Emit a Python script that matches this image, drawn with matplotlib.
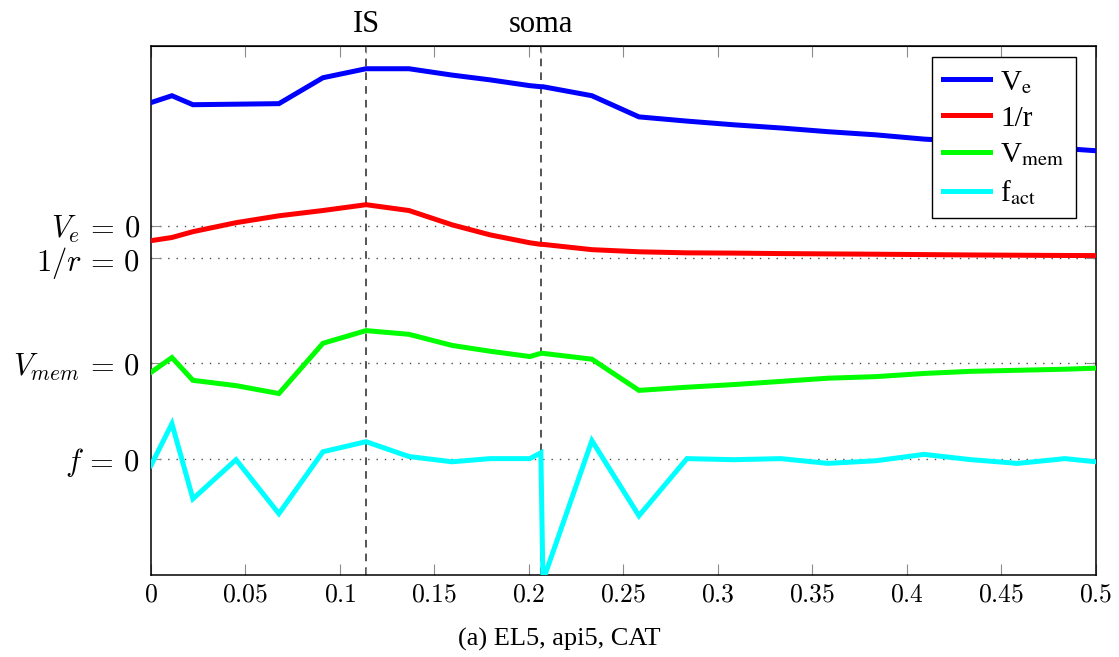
import matplotlib
matplotlib.use('Agg')
import matplotlib.pyplot as plt
from matplotlib.font_manager import FontProperties
from matplotlib.ticker import FuncFormatter

plt.rcParams['font.family'] = ['Liberation Serif', 'DejaVu Serif']
plt.rcParams['mathtext.fontset'] = 'cm'

# Position along the neuron (shared by all four traces)
x = [0.0, 0.0111, 0.0222, 0.0450, 0.0677, 0.0910, 0.1138, 0.1365, 0.1593,
     0.1794, 0.2005, 0.2063, 0.2074, 0.2333, 0.2582, 0.2836, 0.3085, 0.3333,
     0.3582, 0.3836, 0.4090, 0.4339, 0.4587, 0.4836, 0.5]

# Traces, each relative to its own zero line
v_e = [2.33, 2.46, 2.29, 2.30, 2.31, 2.80, 2.97, 2.97, 2.85, 2.76, 2.65, 2.63,
       2.63, 2.46, 2.06, 1.98, 1.91, 1.85, 1.78, 1.72, 1.64, 1.59, 1.53, 1.46,
       1.42]
inv_r = [0.32, 0.38, 0.49, 0.66, 0.79, 0.89, 1.00, 0.89, 0.62, 0.43, 0.28, 0.25,
         0.25, 0.15, 0.11, 0.09, 0.085, 0.076, 0.07, 0.064, 0.057, 0.05, 0.045,
         0.04, 0.038]
v_mem = [-0.17, 0.11, -0.32, -0.42, -0.57, 0.38, 0.62, 0.55, 0.34, 0.23, 0.13,
         0.19, 0.19, 0.08, -0.51, -0.45, -0.40, -0.34, -0.28, -0.25, -0.19,
         -0.15, -0.13, -0.11, -0.09]
f_act = [-0.13, 0.66, -0.76, -0.02, -1.04, 0.13, 0.32, 0.04, -0.06, 0.0, 0.0,
         0.11, -2.31, 0.34, -1.08, 0.0, -0.02, 0.0, -0.09, -0.04, 0.08, -0.02,
         -0.09, 0.0, -0.06]

# Vertical offsets of the zero lines
offsets = [6.6, 6.0, 4.0, 2.2]
zero_labels = [r'$V_e\,=\,0$', r'$1/r\,=\,0$', r'$V_{mem}\,=\,0$', r'$f\,=\,0$']
series = [v_e, inv_r, v_mem, f_act]
names = [r'V$_\mathrm{e}$', '1/r', r'V$_\mathrm{mem}$', r'f$_\mathrm{act}$']
colors = ['#0000ff', '#ff0000', '#00ff00', '#00ffff']

marks = [0.1138, 0.2063]
mark_labels = ['IS', 'soma']

fig = plt.figure(figsize=(11.19, 6.57), dpi=100)
ax = fig.add_axes([0.1349, 0.1248, 0.8445, 0.8052])

for off in offsets:
    ax.axhline(off, color='0.3', lw=1.0, ls=(0, (1, 5)), zorder=1)
for m in marks:
    ax.axvline(m, color='0.15', lw=1.1, ls=(0, (5, 4)), zorder=1)

for s, off, c, n in zip(series, offsets, colors, names):
    ax.plot(x, [v + off for v in s], color=c, lw=3.6, label=n, zorder=3,
            solid_joinstyle='miter')

ax.set_xlim(0, 0.5)
ax.set_ylim(0, 10)
ax.set_xticks([i * 0.05 for i in range(11)])
ax.xaxis.set_major_formatter(FuncFormatter(lambda v, p: f'${v:g}$'))
ax.set_xticks(marks, minor=True)
ax.set_yticks(offsets)
ax.set_yticklabels(zero_labels)

ax.tick_params(axis='x', which='both', direction='in', length=8, width=0.8,
               color='0.55', top=True, labelsize=18.5, pad=7)
ax.tick_params(axis='x', which='minor', length=5)
ax.tick_params(axis='y', direction='in', length=7, width=0.8, color='0.55',
               right=True, labelsize=22, pad=8)
for sp in ax.spines.values():
    sp.set_linewidth(1.1)

top = ax.secondary_xaxis('top')
top.set_xticks(marks)
top.set_xticklabels(mark_labels)
top.tick_params(length=0, labelsize=22, pad=5)

leg = ax.legend(loc='upper right', bbox_to_anchor=(0.9788, 0.979),
                borderaxespad=0, fancybox=False, framealpha=1,
                edgecolor='black', handlelength=1.6, handletextpad=0.35,
                labelspacing=0.33, borderpad=0.4,
                prop=FontProperties(family='Liberation Serif', size=21,
                                    math_fontfamily='stix'))
leg.get_frame().set_linewidth(1.0)

fig.text(0.5, 0.026, '(a) EL5, api5, CAT', ha='center', va='center',
         fontsize=19)

fig.savefig('out.png', dpi=100)
